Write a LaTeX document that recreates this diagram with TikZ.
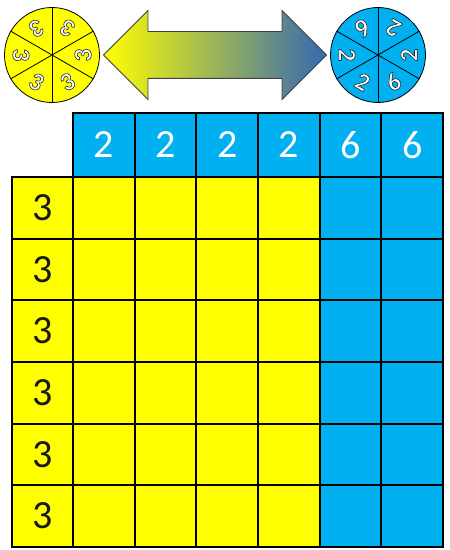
\documentclass[tikz,border=0pt]{standalone}
\usepackage{fontspec}
\setmainfont{Carlito}
\usetikzlibrary{shapes.arrows,calc}
\definecolor{spinyellow}{RGB}{255,255,0}
\definecolor{spinblue}{RGB}{0,176,240}
\definecolor{arrowblue}{RGB}{52,104,178}
\definecolor{arrowmid}{RGB}{205,208,150}
\newcommand{\ringed}[1]{\special{pdf:literal q 2 Tr 0.6 w 0.15 G}#1\special{pdf:literal Q}}

\begin{document}
\begin{tikzpicture}[
    x=1pt, y=1pt,
    cell/.style={rectangle, draw, line width=2pt, minimum width=61.7pt,
                 minimum height=61.7pt, inner sep=0pt,
                 font=\fontsize{40}{42}\selectfont},
    spin/.style={circle, draw, line width=0.8pt, minimum size=95pt, inner sep=0pt},
    spinnum/.style={font=\fontsize{25}{26}\selectfont\bfseries, text=white, inner sep=0pt},
]
\useasboundingbox (0,0) rectangle (450,550);
% spinners
\node[spin, fill=spinyellow] (lspin) at (52,495) {};
\node[spin, fill=spinblue] (rspin) at (378,495) {};
\foreach \s in {lspin,rspin} {
  \draw[line width=0.8pt] (\s.90) -- (\s.270);
  \draw[line width=0.8pt] (\s.30) -- (\s.210);
  \draw[line width=0.8pt] (\s.150) -- (\s.330);
}
\foreach \a in {0,60,...,300}
  \node[spinnum, rotate=\a+90] (l\a) at ($(lspin)+(\a:31pt)$) {\ringed{3}};
\foreach \a/\v in {0/2,60/2,120/6,180/2,240/2,300/6}
  \node[spinnum, rotate=\a+90] (r\a) at ($(rspin)+(\a:31pt)$) {\ringed{\v}};
\node[double arrow, draw=black!75, line width=0.9pt, inner xsep=0pt, inner ysep=23pt,
      double arrow head extend=21pt, minimum height=223pt,
      left color=spinyellow, middle color=arrowmid, right color=arrowblue]
    (swap) at ($(lspin)!0.5!(rspin)$) {};
% grid
\foreach \c/\v in {1/2,2/2,3/2,4/2,5/6,6/6}
  \node[cell, fill=spinblue, text=white, minimum height=64pt] (h\c) at (42.17+61.67*\c, 405) {\v};
\foreach \r in {1,...,6} {
  \node[cell, fill=spinyellow, text=black!90, minimum width=61pt] (t\r) at (42.5, 403.87-61.67*\r) {3};
  \foreach \c/\col in {1/spinyellow,2/spinyellow,3/spinyellow,4/spinyellow,5/spinblue,6/spinblue}
    \node[cell, fill=\col] (g\r\c) at (42.17+61.67*\c, 403.87-61.67*\r) {};
}
\end{tikzpicture}
\end{document}
